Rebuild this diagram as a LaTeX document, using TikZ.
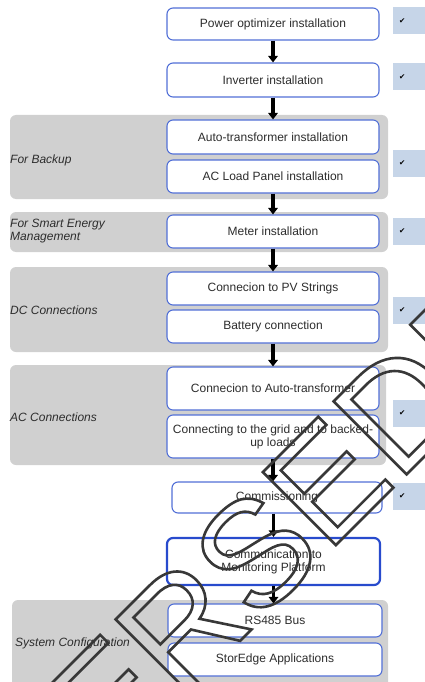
\documentclass[tikz,border=0pt]{standalone}
\usepackage{fontspec}
\setmainfont{Liberation Sans}
\newfontfamily\symfont{DejaVu Sans}
\usetikzlibrary{arrows.meta}

\definecolor{boxblue}{RGB}{82,112,215}
\definecolor{commblue}{RGB}{40,75,205}
\definecolor{grpgray}{RGB}{208,208,208}
\definecolor{tickblue}{RGB}{198,213,232}
\definecolor{txtgray}{RGB}{45,45,45}

\tikzset{
  stepbox/.style={draw=boxblue, line width=1.1pt, fill=white, rounded corners=6pt,
    minimum width=212pt, align=center, text=txtgray, inner sep=1pt,
    font=\fontsize{12}{13}\selectfont},
  grp/.style={fill=grpgray, rounded corners=6pt},
  grplabel/.style={anchor=west, align=left, text=txtgray, inner sep=0pt,
    font=\itshape\fontsize{12}{13}\selectfont},
  tickbox/.style={fill=tickblue, anchor=west, minimum height=27pt, text width=26pt,
    inner xsep=6pt, font=\symfont\fontsize{7.5}{7.5}\selectfont},
  flow/.style={line width=3.5pt, -{Triangle[width=9.5pt,length=6.5pt]}},
}

\begin{document}
\begin{tikzpicture}[x=1pt,y=-1pt]
  \useasboundingbox (0,0) rectangle (424,682);

  % Grey bands behind the grouped steps
  \path[grp] (10,115) rectangle (388,199);
  \path[grp] (10,212) rectangle (388,252);
  \path[grp] (10,267) rectangle (388,352);
  \path[grp] (10,365) rectangle (386,465);
  \path[grp] (12,600) rectangle (388,690);

  % Band labels
  \node[grplabel] (backuplbl) at (10,160) {For Backup};
  \node[grplabel] (smartlbl) at (10,231) {For Smart Energy\\Management};
  \node[grplabel] (dclbl) at (10,310) {DC Connections};
  \node[grplabel] (aclbl) at (10,417) {AC Connections};
  \node[grplabel] (syslbl) at (15,643) {System Configuration};

  % Installation steps
  \node[stepbox, minimum height=32pt] (optim) at (273,24) {Power optimizer installation};
  \node[stepbox, minimum height=34pt] (inverter) at (273,80) {Inverter installation};
  \node[stepbox, minimum height=34pt] (autotr) at (273,137) {Auto-transformer installation};
  \node[stepbox, minimum height=33pt] (acpanel) at (273,176.5) {AC Load Panel installation};
  \node[stepbox, minimum height=33pt] (meter) at (273,231.5) {Meter installation};

  % Connections
  \node[stepbox, minimum height=33pt] (pvstr) at (273,288.5) {Connecion to PV Strings};
  \node[stepbox, minimum height=33pt] (battery) at (273,326.5) {Battery connection};
  \node[stepbox, minimum height=43pt] (acauto) at (273,388.5) {Connecion to Auto-transformer};
  \node[stepbox, minimum height=43pt] (grid) at (273,436.5) {Connecting to the grid and to backed-\\up loads};

  % Commissioning and configuration
  \node[stepbox, minimum width=210pt, minimum height=31pt] (commis) at (277,497.5) {Commissioning};
  \node[stepbox, draw=commblue, line width=2.2pt, minimum width=213pt, minimum height=47pt] (monitor) at (273.5,561.5) {Communication to\\Monitoring Platform};
  \node[stepbox, minimum width=214pt, minimum height=33pt] (rsbus) at (275,620.5) {RS485 Bus};
  \node[stepbox, minimum width=214pt, minimum height=33pt] (storedge) at (275,659.5) {StorEdge Applications};

  % Arrows between the steps
  \draw[flow] (optim) -- (inverter);
  \draw[flow] (inverter) -- (autotr);
  \draw[flow] (acpanel) -- (meter);
  \draw[flow] (meter) -- (pvstr);
  \draw[flow] (battery) -- (acauto);
  \draw[flow] (grid.south) -- (grid.south |- commis.north);
  \draw[flow] (monitor.north |- commis.south) -- (monitor.north);
  \draw[flow] (monitor.south) -- (monitor.south |- rsbus.north);

  % Ticks on the right
  \node[tickbox] (tick1) at (393,21) {✔};
  \node[tickbox] (tick2) at (393,77) {✔};
  \node[tickbox] (tick3) at (393,163) {✔};
  \node[tickbox] (tick4) at (393,231) {✔};
  \node[tickbox] (tick5) at (393,310) {✔};
  \node[tickbox] (tick6) at (393,413) {✔};
  \node[tickbox] (tick7) at (393,496) {✔};

  % Outlined stamp across the page
  \node[rotate=45, inner sep=0pt, font=\fontsize{150}{150}\selectfont] (stamp) at (220,588)
    {\special{pdf:literal direct 1 Tr 0.22 G 2.6 w}SUPERSEDED\special{pdf:literal direct 0 Tr}};
\end{tikzpicture}
\end{document}
